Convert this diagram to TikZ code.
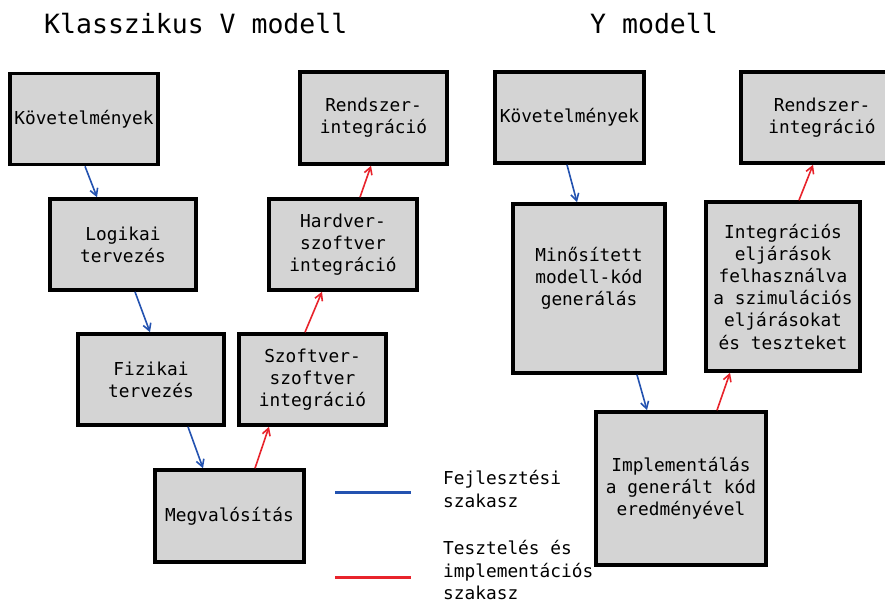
\documentclass[tikz,border=0pt]{standalone}
\usepackage{fontspec}
\setmainfont{DejaVu Sans Mono}
\usetikzlibrary{arrows.meta}
\definecolor{boxgray}{HTML}{D4D4D4}
\definecolor{devblue}{HTML}{2352B0}
\definecolor{testred}{HTML}{E8232B}
\tikzset{
  stagebox/.style={draw=black, line width=3.6pt, fill=boxgray, inner sep=0pt,
    align=center, font=\fontsize{17.8}{22.2}\selectfont},
  devarrow/.style={draw=devblue, line width=1.6pt, -{Straight Barb[length=7pt,width=8pt]}},
  testarrow/.style={draw=testred, line width=1.6pt, -{Straight Barb[length=7pt,width=8pt]}},
  legtext/.style={anchor=base west, inner sep=0pt, font=\fontsize{17.8}{22.2}\selectfont},
  titletext/.style={anchor=base west, inner sep=0pt, font=\fontsize{26.5}{30}\selectfont},
}
\begin{document}
\begin{tikzpicture}[x=1pt,y=-1pt]
\clip (0,0) rectangle (885,603);
\fill[white] (0,0) rectangle (885,603);

% titles
\node[titletext] (tv) at (44,33) {Klasszikus V modell};
\node[titletext] (ty) at (590,33) {Y modell};

% V model boxes
\node[stagebox, minimum width=148pt, minimum height=91pt] (kovL) at (84,119) {Követelmények};
\node[stagebox, minimum width=146pt, minimum height=91pt] (log) at (123,244.5) {Logikai\\tervezés};
\node[stagebox, minimum width=146pt, minimum height=91pt] (fiz) at (151,379.5) {Fizikai\\tervezés};
\node[stagebox, minimum width=149pt, minimum height=92pt] (megv) at (229.5,516) {Megvalósítás};
\node[stagebox, minimum width=147pt, minimum height=91pt] (szoft) at (312.5,379.5) {Szoftver-\\szoftver\\integráció};
\node[stagebox, minimum width=148pt, minimum height=91pt] (hard) at (343,244.5) {Hardver-\\szoftver\\integráció};
\node[stagebox, minimum width=147pt, minimum height=92pt] (rendL) at (373.5,118) {Rendszer-\\integráció};

% Y model boxes
\node[stagebox, minimum width=149pt, minimum height=91pt] (kovY) at (569.5,117.5) {Követelmények};
\node[stagebox, minimum width=152pt, minimum height=169pt] (minb) at (589,288.5) {};
\node[inner sep=0pt, align=center, font=\fontsize{17.8}{22.2}\selectfont] (mintext) at (589,278) {Minősített\\modell-kód\\generálás};
\node[stagebox, minimum width=154pt, minimum height=169pt] (integ) at (783,286.5) {Integrációs\\eljárások\\felhasználva\\a szimulációs\\eljárásokat\\és teszteket};
\node[stagebox, minimum width=162pt, minimum height=91pt] (rendY) at (822,117.5) {Rendszer-\\integráció};
\node[stagebox, minimum width=170pt, minimum height=153pt] (impl) at (681,488.5) {Implementálás\\a generált kód\\eredményével};

% V model connectors
\draw[devarrow] ([xshift=1pt]kovL.south) -- ([xshift=-26pt]log.north);
\draw[devarrow] ([xshift=12pt]log.south) -- ([xshift=-1pt]fiz.north);
\draw[devarrow] ([xshift=37pt]fiz.south) -- ([xshift=-26.5pt]megv.north);
\draw[testarrow] ([xshift=25.5pt]megv.north) -- ([xshift=-43.5pt]szoft.south);
\draw[testarrow] ([xshift=-7.5pt]szoft.north) -- ([xshift=-21pt]hard.south);
\draw[testarrow] ([xshift=17pt]hard.north) -- ([xshift=-2.5pt]rendL.south);

% Y model connectors
\draw[devarrow] ([xshift=-2.5pt]kovY.south) -- ([xshift=-12pt]minb.north);
\draw[devarrow] ([xshift=48pt]minb.south) -- ([xshift=-34pt]impl.north);
\draw[testarrow] ([xshift=36pt]impl.north) -- ([xshift=-53pt]integ.south);
\draw[testarrow] ([xshift=16pt]integ.north) -- ([xshift=-9pt]rendY.south);

% legend
\coordinate (lb1) at (335,492);
\coordinate (lb2) at (411,492);
\coordinate (lr1) at (335,577);
\coordinate (lr2) at (411,577);
\draw[devblue, line width=3pt] (lb1) -- (lb2);
\draw[testred, line width=3pt] (lr1) -- (lr2);
\node[legtext] (l1a) at (443,484) {Fejlesztési};
\node[legtext] (l1b) at (443,507) {szakasz};
\node[legtext] (l2a) at (443,554) {Tesztelés és};
\node[legtext] (l2b) at (443,577) {implementációs};
\node[legtext] (l2c) at (443,599) {szakasz};
\end{tikzpicture}
\end{document}
